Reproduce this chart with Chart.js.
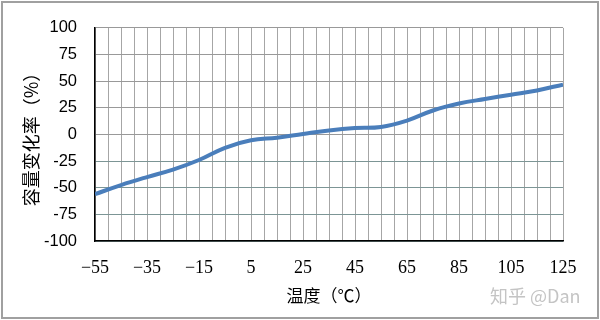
<!DOCTYPE html>
<html>
<head>
<meta charset="utf-8">
<script src="https://cdn.jsdelivr.net/npm/chart.js@4/dist/chart.umd.min.js"></script>
<style>
  html, body { margin: 0; padding: 0; background: #fff; }
  #wrap { width: 600px; height: 320px; position: relative; }
</style>
</head>
<body>
<div id="wrap"><canvas id="chart" width="600" height="320"></canvas></div>
<script>
// temperature (°C) vs capacitance change (%)
const temps = [-55, -45, -35, -25, -15, -5, 5, 15, 25, 35, 45, 55, 65, 75, 85, 95, 105, 115, 125];
const capChange = [-56, -47.5, -40, -33, -24, -12.5, -5.5, -3, 0.5, 3.8, 6, 7, 13, 22.5, 29, 33.3, 37.3, 41.3, 46.8];
const xLabels = [-55, -35, -15, 5, 25, 45, 65, 85, 105, 125];
const yTicks = [-100, -75, -50, -25, 0, 25, 50, 75, 100];

const xTitle = '温度（℃）';
const yTitle = '容量变化率（%）';
const watermark = '知乎 @Dan';

const decor = {
    id: 'decor',
    afterDraw: function (chart) {
        const ctx = chart.ctx;
        const area = chart.chartArea;
        ctx.save();
        ctx.strokeStyle = '#a0a0a0';
        ctx.lineWidth = 2;
        ctx.strokeRect(2, 2, 596, 316);

        ctx.fillStyle = '#000';
        ctx.font = '17px "Noto Sans CJK SC"';
        ctx.textAlign = 'center';
        ctx.textBaseline = 'middle';
        ctx.fillText(xTitle, (area.left + area.right) / 2, 296);

        ctx.save();
        ctx.font = '18px "Noto Sans CJK SC"';
        ctx.translate(31, 135);
        ctx.rotate(-Math.PI / 2);
        ctx.fillText(yTitle, 0, 0);
        ctx.restore();

        ctx.fillStyle = '#c4c4c4';
        ctx.font = '18px "Noto Sans CJK SC"';
        ctx.textAlign = 'left';
        ctx.fillText(watermark, 490, 296);
        ctx.restore();
    }
};

new Chart(document.getElementById('chart'), {
    type: 'line',
    data: {
        datasets: [{
            data: temps.map(function (t, i) { return { x: t, y: capChange[i] }; }),
            borderColor: '#4a7ebb',
            borderWidth: 4,
            pointRadius: 0,
            tension: 0.4,
            fill: false
        }]
    },
    options: {
        responsive: false,
        animation: false,
        layout: { padding: { left: 0, right: 37, top: 24, bottom: 0 } },
        plugins: { legend: { display: false }, tooltip: { enabled: false } },
        scales: {
            x: {
                type: 'linear',
                min: -55,
                max: 125,
                afterFit: function (s) { s.height = 79; },
                afterBuildTicks: function (s) {
                    const t = [];
                    for (let v = -55; v <= 125; v += 5) t.push({ value: v });
                    s.ticks = t;
                },
                grid: { color: '#a6a6a6', lineWidth: 1, drawTicks: false },
                border: { display: true, color: '#000', width: 1.5 },
                ticks: {
                    autoSkip: false,
                    maxRotation: 0,
                    padding: 16,
                    color: '#000',
                    font: { family: '"Liberation Serif"', size: 18 },
                    callback: function (v) {
                        if (xLabels.indexOf(v) < 0) return '';
                        return v < 0 ? '\u2212' + Math.abs(v) : String(v);
                    }
                }
            },
            y: {
                min: -100,
                max: 100,
                afterFit: function (s) { s.width = 95; },
                afterBuildTicks: function (s) {
                    s.ticks = yTicks.map(function (v) { return { value: v }; });
                },
                grid: {
                    drawTicks: false,
                    color: function (c) { return c.tick && c.tick.value < 0 ? '#7c9595' : '#999999'; }
                },
                border: { display: true, color: '#000', width: 1.5 },
                ticks: {
                    padding: 18,
                    color: '#000',
                    font: { family: '"Liberation Sans"', size: 16.5 }
                }
            }
        }
    },
    plugins: [decor]
});
</script>
</body>
</html>
